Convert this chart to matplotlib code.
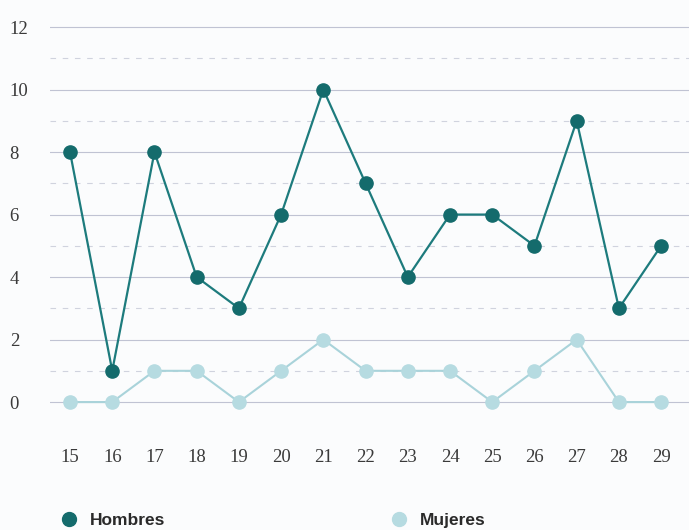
import numpy as np
import matplotlib.pyplot as plt
from matplotlib.lines import Line2D

edades = [15, 16, 17, 18, 19, 20, 21, 22, 23, 24, 25, 26, 27, 28, 29]
hombres = [8, 1, 8, 4, 3, 6, 10, 7, 4, 6, 6, 5, 9, 3, 5]
mujeres = [0, 0, 1, 1, 0, 1, 2, 1, 1, 1, 0, 1, 2, 0, 0]
y_ticks = [0, 2, 4, 6, 8, 10, 12]

c_hom = '#1d7b7d'
c_hom_mk = '#146b6c'
c_muj = '#a9d3da'
c_muj_mk = '#b6dbe1'

W, H = 689, 530
fig = plt.figure(figsize=(W / 100, H / 100), dpi=100)
fig.patch.set_facecolor('#fbfcfd')

# axes placed in pixel coordinates
left, right, top, bottom = 50, 689, 8, 418
ax = fig.add_axes([left / W, 1 - bottom / H, (right - left) / W, (bottom - top) / H])
ax.set_facecolor('none')

ax.set_xlim(14.526, 29.66)
ax.set_ylim(-0.51, 12.61)

# grid: solid on even, dashed on odd
for v in range(0, 13):
    if v % 2 == 0:
        ax.axhline(v, color='#c0c3d3', lw=0.8, zorder=1)
    else:
        ax.axhline(v, color='#d0d3de', lw=0.8, ls=(0, (5, 6)), zorder=1)

ax.plot(edades, mujeres, color=c_muj, lw=1.5, marker='o', ms=9.5,
        mfc=c_muj_mk, mec=c_muj_mk, zorder=3)
ax.plot(edades, hombres, color=c_hom, lw=1.6, marker='o', ms=9.5,
        mfc=c_hom_mk, mec=c_hom_mk, zorder=4)

for s in ax.spines.values():
    s.set_visible(False)

ax.set_xticks(edades)
ax.set_xticklabels([str(e) for e in edades])
ax.set_yticks(y_ticks)
ax.set_yticklabels([str(v) for v in y_ticks])
ax.tick_params(axis='both', length=0, labelsize=13.5, labelcolor='#3a3a3a')
ax.tick_params(axis='x', pad=22)
ax.tick_params(axis='y', pad=29)
for lab in ax.get_yticklabels():
    lab.set_horizontalalignment('left')
for lab in ax.get_xticklabels() + ax.get_yticklabels():
    lab.set_fontfamily('Liberation Serif')

h1 = Line2D([], [], ls='none', marker='o', ms=10, mfc=c_hom_mk, mec=c_hom_mk)
h2 = Line2D([], [], ls='none', marker='o', ms=10, mfc=c_muj_mk, mec=c_muj_mk)
leg1 = fig.legend([h1], ['Hombres'], loc='center left', bbox_to_anchor=(60 / W, 1 - 520 / H),
                  frameon=False, handlelength=1, handletextpad=0.7, borderpad=0, borderaxespad=0,
                  prop={'family': 'Liberation Sans', 'weight': 'bold', 'size': 12.5})
leg2 = fig.legend([h2], ['Mujeres'], loc='center left', bbox_to_anchor=(390 / W, 1 - 520 / H),
                  frameon=False, handlelength=1, handletextpad=0.7, borderpad=0, borderaxespad=0,
                  prop={'family': 'Liberation Sans', 'weight': 'bold', 'size': 12.5})
for t in leg1.get_texts() + leg2.get_texts():
    t.set_color('#2a2a2a')

fig.savefig('out.png', dpi=100, facecolor=fig.get_facecolor())
